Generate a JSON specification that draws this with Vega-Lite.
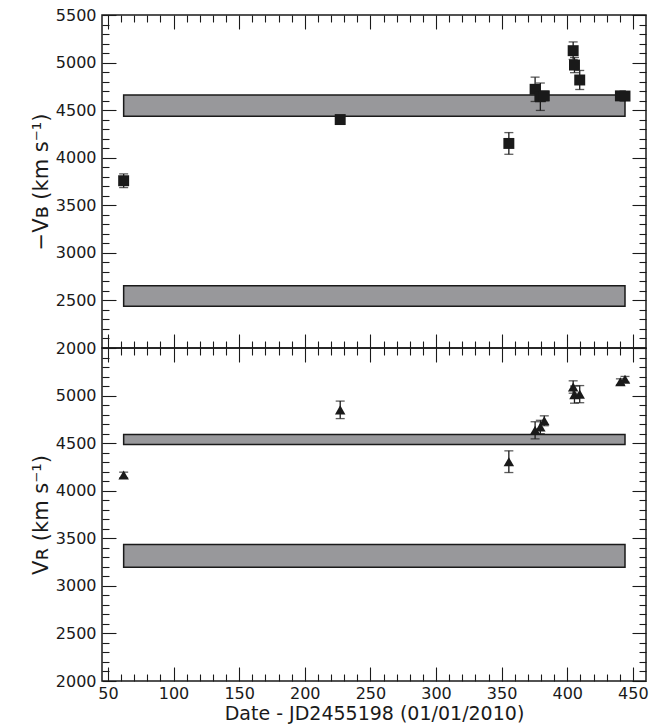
{
  "$schema": "https://vega.github.io/schema/vega-lite/v6.json",
  "background": "white",
  "padding": {"left": 29, "top": 6, "right": 18, "bottom": 2},
  "spacing": 0,
  "bounds": "flush",
  "config": {
    "font": "DejaVu Sans",
    "view": {"stroke": "#1a1a1a", "strokeWidth": 1.5},
    "axis": {
      "domain": false,
      "grid": false,
      "tickColor": "#1a1a1a",
      "tickWidth": 1.1,
      "labelColor": "#1a1a1a",
      "labelFontSize": 16,
      "labelFont": "DejaVu Sans",
      "titleFont": "DejaVu Sans",
      "titleFontWeight": "normal",
      "titleColor": "#1a1a1a",
      "minExtent": 0,
      "labelOverlap": false,
      "labelFlush": false
    }
  },
  "datasets": {
    "vb": [
      {"t": 62, "v": 3758, "e": 72},
      {"t": 227, "v": 4401, "e": 25},
      {"t": 355.5, "v": 4150, "e": 114},
      {"t": 375.5, "v": 4719, "e": 128},
      {"t": 379.5, "v": 4641, "e": 144},
      {"t": 382.5, "v": 4650, "e": 50},
      {"t": 404.5, "v": 5125, "e": 92},
      {"t": 405.5, "v": 4974, "e": 80},
      {"t": 409.5, "v": 4817, "e": 100},
      {"t": 440.5, "v": 4650, "e": 45},
      {"t": 444, "v": 4648, "e": 45}
    ],
    "vr": [
      {"t": 62, "v": 4165, "e": 30},
      {"t": 227, "v": 4850, "e": 92},
      {"t": 355.5, "v": 4305, "e": 114},
      {"t": 375.5, "v": 4635, "e": 90},
      {"t": 379.5, "v": 4670, "e": 70},
      {"t": 382.5, "v": 4735, "e": 52},
      {"t": 404.5, "v": 5090, "e": 65},
      {"t": 405.5, "v": 5010, "e": 90},
      {"t": 409.5, "v": 5015, "e": 90},
      {"t": 440.5, "v": 5146, "e": 30},
      {"t": 444, "v": 5171, "e": 30}
    ],
    "bandsB": [
      {"x1": 62, "x2": 444, "lo": 4435, "hi": 4660},
      {"x1": 62, "x2": 444, "lo": 2440, "hi": 2655}
    ],
    "bandsR": [
      {"x1": 62, "x2": 444, "lo": 4485, "hi": 4590},
      {"x1": 62, "x2": 444, "lo": 3195, "hi": 3435}
    ]
  },
  "vconcat": [
    {
      "width": 544,
      "height": 333,
      "resolve": {"axis": {"x": "independent", "y": "independent"}},
      "layer": [
        {
          "data": {"name": "bandsB"},
          "mark": {"type": "rect", "fill": "#98989b", "stroke": "#1a1a1a", "strokeWidth": 1.5},
          "encoding": {
            "x": {"field": "x1", "type": "quantitative", "scale": {"domain": [45.5, 460], "nice": false, "zero": false},
              "axis": {"orient": "bottom", "values": [50,100,150,200,250,300,350,400,450], "labels": false, "title": null, "tickSize": -14, "minExtent": 0, "maxExtent": 0}},
            "x2": {"field": "x2"},
            "y": {"field": "lo", "type": "quantitative", "scale": {"domain": [2000, 5500], "nice": false, "zero": false},
              "axis": {"orient": "left", "values": [2000,2500,3000,3500,4000,4500,5000,5500], "format": "d",
                "tickSize": -14, "labelPadding": 20,
                "title": "−Vʙ (km s⁻¹)", "titleFontSize": 21, "titlePadding": 4}},
            "y2": {"field": "hi"}
          }
        },
        {
          "data": {"name": "bandsB"},
          "mark": {"type": "rect", "opacity": 0},
          "encoding": {
            "x": {"field": "x1", "type": "quantitative",
              "axis": {"orient": "bottom", "values": [60,70,80,90,110,120,130,140,160,170,180,190,210,220,230,240,260,270,280,290,310,320,330,340,360,370,380,390,410,420,430,440], "labels": false, "title": null, "tickSize": -7, "minExtent": 0, "maxExtent": 0}},
            "x2": {"field": "x2"},
            "y": {"field": "lo", "type": "quantitative",
              "axis": {"orient": "left", "values": [2100,2200,2300,2400,2600,2700,2800,2900,3100,3200,3300,3400,3600,3700,3800,3900,4100,4200,4300,4400,4600,4700,4800,4900,5100,5200,5300,5400], "labels": false, "title": null, "tickSize": -7, "minExtent": 0, "maxExtent": 0}},
            "y2": {"field": "hi"}
          }
        },
        {
          "data": {"name": "bandsB"},
          "mark": {"type": "rect", "opacity": 0},
          "encoding": {
            "x": {"field": "x1", "type": "quantitative",
              "axis": {"orient": "top", "values": [60,70,80,90,110,120,130,140,160,170,180,190,210,220,230,240,260,270,280,290,310,320,330,340,360,370,380,390,410,420,430,440], "labels": false, "title": null, "tickSize": -7, "minExtent": 0, "maxExtent": 0}},
            "x2": {"field": "x2"},
            "y": {"field": "lo", "type": "quantitative",
              "axis": {"orient": "right", "values": [2100,2200,2300,2400,2600,2700,2800,2900,3100,3200,3300,3400,3600,3700,3800,3900,4100,4200,4300,4400,4600,4700,4800,4900,5100,5200,5300,5400], "labels": false, "title": null, "tickSize": -7, "minExtent": 0, "maxExtent": 0}},
            "y2": {"field": "hi"}
          }
        },
        {
          "data": {"name": "vb"},
          "mark": {"type": "errorbar", "ticks": {"size": 9, "thickness": 1.3, "color": "#1a1a1a"}, "rule": {"strokeWidth": 1.3, "color": "#1a1a1a"}},
          "encoding": {
            "x": {"field": "t", "type": "quantitative", "axis": null},
            "y": {"field": "v", "type": "quantitative", "axis": null},
            "yError": {"field": "e"}
          }
        },
        {
          "data": {"name": "vb"},
          "mark": {"type": "point", "shape": "square", "filled": true, "size": 120, "color": "#1a1a1a", "opacity": 1},
          "encoding": {
            "x": {"field": "t", "type": "quantitative",
              "axis": {"orient": "top", "values": [50,100,150,200,250,300,350,400,450], "labels": false, "title": null, "tickSize": -14, "minExtent": 0, "maxExtent": 0}},
            "y": {"field": "v", "type": "quantitative",
              "axis": {"orient": "right", "values": [2000,2500,3000,3500,4000,4500,5000,5500], "labels": false, "title": null, "tickSize": -14, "minExtent": 0, "maxExtent": 0}}
          }
        }
      ]
    },
    {
      "width": 544,
      "height": 333,
      "resolve": {"axis": {"x": "independent", "y": "independent"}},
      "layer": [
        {
          "data": {"name": "bandsR"},
          "mark": {"type": "rect", "fill": "#98989b", "stroke": "#1a1a1a", "strokeWidth": 1.5},
          "encoding": {
            "x": {"field": "x1", "type": "quantitative", "scale": {"domain": [45.5, 460], "nice": false, "zero": false},
              "axis": {"orient": "bottom", "values": [50,100,150,200,250,300,350,400,450], "tickSize": -14, "labelPadding": 18,
                "title": "Date - JD2455198 (01/01/2010)", "titleFontSize": 19, "titlePadding": 3}},
            "x2": {"field": "x2"},
            "y": {"field": "lo", "type": "quantitative", "scale": {"domain": [2000, 5500], "nice": false, "zero": false},
              "axis": {"orient": "left", "values": [2000,2500,3000,3500,4000,4500,5000], "format": "d",
                "tickSize": -14, "labelPadding": 20,
                "title": "Vʀ (km s⁻¹)", "titleFontSize": 21, "titlePadding": 4}},
            "y2": {"field": "hi"}
          }
        },
        {
          "data": {"name": "bandsR"},
          "mark": {"type": "rect", "opacity": 0},
          "encoding": {
            "x": {"field": "x1", "type": "quantitative",
              "axis": {"orient": "bottom", "values": [60,70,80,90,110,120,130,140,160,170,180,190,210,220,230,240,260,270,280,290,310,320,330,340,360,370,380,390,410,420,430,440], "labels": false, "title": null, "tickSize": -7, "minExtent": 0, "maxExtent": 0}},
            "x2": {"field": "x2"},
            "y": {"field": "lo", "type": "quantitative",
              "axis": {"orient": "left", "values": [2100,2200,2300,2400,2600,2700,2800,2900,3100,3200,3300,3400,3600,3700,3800,3900,4100,4200,4300,4400,4600,4700,4800,4900,5100,5200,5300,5400], "labels": false, "title": null, "tickSize": -7, "minExtent": 0, "maxExtent": 0}},
            "y2": {"field": "hi"}
          }
        },
        {
          "data": {"name": "bandsR"},
          "mark": {"type": "rect", "opacity": 0},
          "encoding": {
            "x": {"field": "x1", "type": "quantitative",
              "axis": {"orient": "top", "values": [60,70,80,90,110,120,130,140,160,170,180,190,210,220,230,240,260,270,280,290,310,320,330,340,360,370,380,390,410,420,430,440], "labels": false, "title": null, "tickSize": -7, "minExtent": 0, "maxExtent": 0}},
            "x2": {"field": "x2"},
            "y": {"field": "lo", "type": "quantitative",
              "axis": {"orient": "right", "values": [2100,2200,2300,2400,2600,2700,2800,2900,3100,3200,3300,3400,3600,3700,3800,3900,4100,4200,4300,4400,4600,4700,4800,4900,5100,5200,5300,5400], "labels": false, "title": null, "tickSize": -7, "minExtent": 0, "maxExtent": 0}},
            "y2": {"field": "hi"}
          }
        },
        {
          "data": {"name": "vr"},
          "mark": {"type": "errorbar", "ticks": {"size": 9, "thickness": 1.3, "color": "#1a1a1a"}, "rule": {"strokeWidth": 1.3, "color": "#1a1a1a"}},
          "encoding": {
            "x": {"field": "t", "type": "quantitative", "axis": null},
            "y": {"field": "v", "type": "quantitative", "axis": null},
            "yError": {"field": "e"}
          }
        },
        {
          "data": {"name": "vr"},
          "mark": {"type": "point", "shape": "triangle-up", "filled": true, "size": 110, "color": "#1a1a1a", "opacity": 1},
          "encoding": {
            "x": {"field": "t", "type": "quantitative",
              "axis": {"orient": "top", "values": [50,100,150,200,250,300,350,400,450], "labels": false, "title": null, "tickSize": -14, "minExtent": 0, "maxExtent": 0}},
            "y": {"field": "v", "type": "quantitative",
              "axis": {"orient": "right", "values": [2000,2500,3000,3500,4000,4500,5000,5500], "labels": false, "title": null, "tickSize": -14, "minExtent": 0, "maxExtent": 0}}
          }
        }
      ]
    }
  ]
}
